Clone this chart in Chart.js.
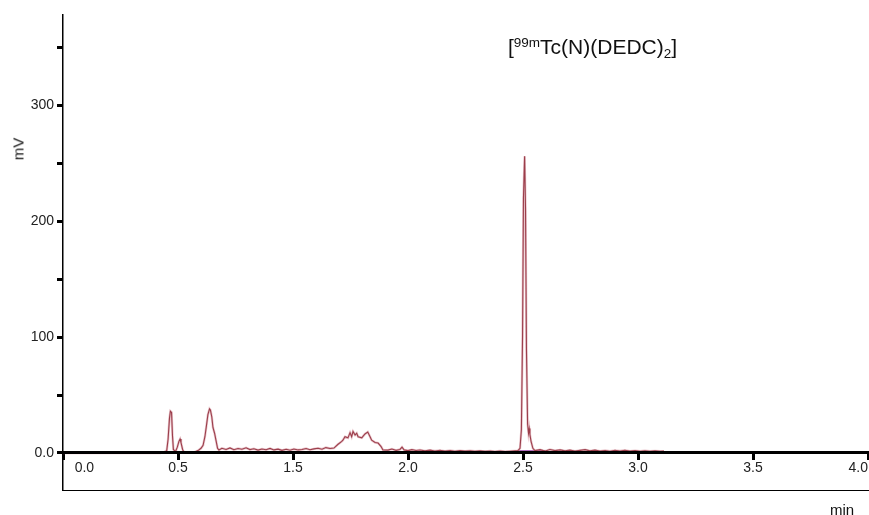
<!DOCTYPE html>
<html>
<head>
<meta charset="utf-8">
<script src="https://cdn.jsdelivr.net/npm/chart.js@4"></script>
<style>
  html, body { margin: 0; padding: 0; background: #fff; }
  #wrap { position: relative; width: 869px; height: 515px; }
  #chart { position: absolute; left: 0; top: 0; }
  .lbl { position: absolute; font-family: 'Liberation Sans', Arial, sans-serif; color: #111; white-space: nowrap; }
  #title { left: 508px; top: 36px; font-size: 21px; line-height: 21px; }
  #title sup { font-size: 13.5px; line-height: 0; vertical-align: 7px; }
  #title sub { font-size: 13.5px; line-height: 0; vertical-align: -4px; }
  #ytitle { left: 18px; top: 149px; font-size: 15px; line-height: 15px; transform: translate(-50%, -50%) rotate(-90deg); }
  #xtitle { left: 842px; top: 509px; font-size: 15px; line-height: 15px; transform: translate(-50%, -50%); }
</style>
</head>
<body>
<div id="wrap">
  <canvas id="chart" width="869" height="515"></canvas>
  <div class="lbl" id="title">[<sup>99m</sup>Tc(N)(DEDC)<sub>2</sub>]</div>
  <div class="lbl" id="ytitle">mV</div>
  <div class="lbl" id="xtitle">min</div>
</div>
<script>
// radio-HPLC trace, x in axis positions (one tick every 0.5), y in mV
const TIME = [0, 0.422, 0.439, 0.451, 0.457, 0.463, 0.467, 0.472, 0.476, 0.480, 0.489, 0.497, 0.504, 0.509, 0.513, 0.520, 0.526,
  0.570, 0.587, 0.600, 0.609, 0.617, 0.624, 0.630, 0.637, 0.641, 0.647, 0.652, 0.659, 0.665, 0.672, 0.678,
  0.691, 0.709, 0.726, 0.743, 0.761, 0.778, 0.796, 0.813, 0.830, 0.848, 0.865, 0.883, 0.900, 0.917, 0.935, 0.952, 0.970, 0.987, 1.004, 1.022, 1.039, 1.057, 1.074, 1.091, 1.109, 1.126, 1.143, 1.161, 1.178,
  1.196, 1.212, 1.217, 1.226, 1.239, 1.248, 1.255, 1.261, 1.270, 1.277, 1.283, 1.299, 1.313, 1.325, 1.335, 1.342, 1.357, 1.370, 1.383, 1.391, 1.413,
  1.430, 1.448, 1.465, 1.474, 1.483, 1.500, 1.517, 1.535, 1.552, 1.574, 1.596, 1.617, 1.639, 1.661, 1.683, 1.704, 1.726, 1.748, 1.770, 1.791, 1.813, 1.835, 1.857, 1.878, 1.900, 1.922, 1.943, 1.965,
  1.978, 1.987, 1.993, 1.998, 2.002, 2.007, 2.011, 2.015, 2.020, 2.024, 2.027, 2.030, 2.035, 2.043, 2.052,
  2.074, 2.096, 2.117, 2.139, 2.161, 2.183, 2.204, 2.226, 2.248, 2.270, 2.291, 2.313, 2.335, 2.357, 2.378, 2.400, 2.422, 2.443, 2.465, 2.487, 2.509, 2.530, 2.552, 2.574, 2.596, 2.613]
const SIGNAL = [0, 0, 0.5, 2, 12, 30, 36, 35, 15, 3, 1, 5, 10, 12, 9, 3, 0.5,
  0.5, 2, 4, 6.5, 14, 24, 33, 38, 37, 31, 22, 17, 11, 4, 2.5,
  4.0, 3.0, 4.3, 2.8, 3.8, 3.2, 4.4, 2.9, 3.6, 2.4, 3.4, 2.8, 3.9, 2.6, 3.3, 2.2, 3.1, 2.3, 3.4, 2.6, 3.0, 3.8, 2.7, 3.5, 4.0, 3.2, 4.6, 3.8, 4.2,
  7.5, 10, 11, 14, 13, 17.5, 14, 18.5, 15.5, 17, 14, 13, 16.4, 18, 14, 11, 9, 8.5, 5.5, 2.6, 2.4,
  3.4, 2.2, 3.0, 5.0, 2.6, 2.0, 2.8, 2.1, 2.5, 1.8, 2.4, 1.7, 2.2, 1.6, 2.1, 1.5, 2.0, 1.6, 1.9, 1.4, 1.8, 1.3, 1.7, 1.2, 1.6, 1.2, 1.5, 1.8,
  2.0, 4, 20, 100, 220, 256, 210, 90, 25, 17, 21, 16, 10, 4, 2.0,
  2.8, 1.6, 3.0, 2.0, 2.6, 1.8, 2.4, 1.6, 2.2, 2.8, 1.8, 2.4, 1.6, 2.1, 1.5, 2.2, 1.7, 2.3, 1.6, 2.0, 1.5, 1.9, 1.4, 1.8, 1.4, 1.6]

// short purple baseline trace under the main peak
const BASE_TIME = [1.983, 2.096]
const BASE_SIGNAL = [1.6, 1.6]

const X_TICKS = [0, 0.5, 1.0, 1.5, 2.0, 2.5, 3.0, 3.5]
const X_LABELS = ['0.0', '0.5', '1.5', '2.0', '2.5', '3.0', '3.5', '4.0']
const Y_TICKS = [0, 50, 100, 150, 200, 250, 300, 350]
const Y_LABELS = ['0.0', '', '100', '', '200', '', '300', '']

const FONT = { family: "'Liberation Sans', Arial, sans-serif", size: 14 }
const trace = TIME.map((t, i) => ({ x: t, y: SIGNAL[i] }))
const base = BASE_TIME.map((t, i) => ({ x: t, y: BASE_SIGNAL[i] }))

new Chart(document.getElementById('chart'), {
  type: 'line',
  data: {
    datasets: [
      { data: trace, borderColor: 'rgba(200,110,125,0.4)', borderWidth: 2.4 },
      { data: trace, borderColor: '#7e1f2b', borderWidth: 1.1 },
      { data: base, borderColor: '#8e2aa0', borderWidth: 1.5 },
    ],
  },
  options: {
    responsive: false,
    animation: false,
    layout: { padding: { top: 15, right: 1, left: 0, bottom: 0 } },
    elements: { point: { radius: 0 }, line: { tension: 0 } },
    plugins: { legend: { display: false }, tooltip: { enabled: false } },
    scales: {
      x: {
        type: 'linear', min: 0, max: 3.5,
        position: { y: 0 },
        afterBuildTicks: (s) => { s.ticks = X_TICKS.map((v) => ({ value: v })) },
        afterFit: (s) => { s.paddingLeft = 0; s.paddingRight = 0 },
        grid: { drawOnChartArea: false, tickLength: 6, tickWidth: 3, tickColor: '#000' },
        border: { width: 3, color: '#000', z: 1 },
        ticks: {
          align: 'inner', padding: 1, color: '#222', font: FONT, maxRotation: 0,
          callback: (v, i) => (i === 0 ? '   ' : '') + X_LABELS[i],
        },
      },
      xb: {
        type: 'linear', min: 0, max: 3.5, position: 'bottom',
        afterFit: (s) => { s.height = 25; s.paddingLeft = 0; s.paddingRight = 0 },
        ticks: { display: false },
        grid: { display: false, drawTicks: false },
        border: { width: 1, color: '#000' },
      },
      y: {
        min: -32, max: 378, position: 'left',
        afterBuildTicks: (s) => { s.ticks = Y_TICKS.map((v) => ({ value: v })) },
        afterFit: (s) => { s.width = 63 },
        grid: { drawOnChartArea: false, tickLength: 6, tickWidth: 3, tickColor: '#000' },
        border: { width: 1.5, color: '#000' },
        ticks: { padding: 3, color: '#222', font: FONT, callback: (v, i) => Y_LABELS[i] },
      },
    },
  },
})
</script>
</body>
</html>
